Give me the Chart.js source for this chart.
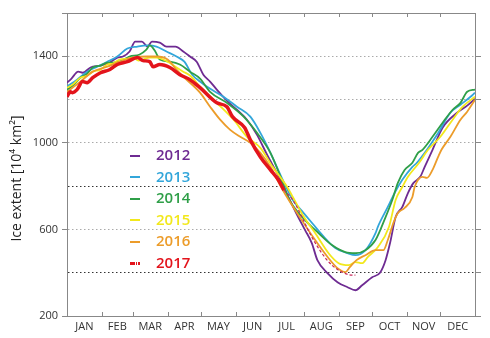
<!DOCTYPE html>
<html>
<head>
<meta charset="utf-8">
<title>Ice extent 2012-2017</title>
<script src="https://cdn.jsdelivr.net/npm/chart.js@4.4.0/dist/chart.umd.min.js"></script>
<style>
  body { margin: 0; background: #fff; }
  #wrap { position: relative; width: 490px; height: 338px; }
  #legend { position: absolute; left: 130px; top: 144px; font: 600 15px "Open Sans", sans-serif; }
  #legend div { height: 21.5px; line-height: 21.5px; white-space: nowrap; }
  #legend .sym { display: inline-block; width: 10px; height: 2px; vertical-align: middle; margin-right: 16px; }
</style>
</head>
<body>
<div id="wrap">
  <canvas id="chart"></canvas>
  <div id="legend"></div>
</div>
<script>
// ----- Data (day of year / extent in 10^4 km2) -----
const months = ["JAN", "FEB", "MAR", "APR", "MAY", "JUN", "JUL", "AUG", "SEP", "OCT", "NOV", "DEC"];
const monthStarts = [0, 31, 59, 90, 120, 151, 181, 212, 243, 273, 304, 334, 365];
const yLabelled = [200, 600, 1000, 1400];
const yDarkLines = [400, 800];

const days2012 = [0, 4, 10, 14, 21, 30, 38, 45, 50, 56, 61, 67, 72, 76, 83, 89, 97, 104, 110, 116, 122, 128, 134, 143, 152, 161, 170, 179, 191, 198, 205, 213, 219, 224, 233, 242, 251, 258, 264, 273, 280, 285, 289, 294, 300, 305, 310, 316, 320, 327, 336, 349, 358, 365];
const ext2012 = [1278, 1297, 1329, 1324, 1348, 1357, 1371, 1394, 1399, 1422, 1468, 1468, 1445, 1468, 1463, 1445, 1445, 1422, 1399, 1375, 1315, 1283, 1246, 1195, 1153, 1107, 1037, 945, 829, 750, 676, 597, 537, 458, 398, 356, 333, 319, 342, 379, 400, 458, 537, 657, 704, 768, 815, 843, 889, 968, 1070, 1139, 1172, 1204];

const days2013 = [0, 9, 18, 27, 36, 45, 54, 63, 72, 80, 89, 98, 105, 112, 119, 125, 140, 152, 164, 173, 182, 193, 202, 211, 220, 230, 240, 251, 258, 267, 276, 278, 287, 293, 300, 309, 313, 322, 331, 343, 352, 361, 365];
const ext2013 = [1260, 1292, 1329, 1352, 1375, 1399, 1436, 1445, 1450, 1445, 1422, 1399, 1375, 1315, 1283, 1260, 1213, 1167, 1121, 1046, 954, 829, 736, 680, 625, 565, 514, 490, 481, 504, 583, 611, 704, 768, 829, 889, 908, 968, 1037, 1139, 1176, 1213, 1232];

const days2014 = [0, 5, 12, 18, 23, 30, 36, 41, 47, 56, 65, 71, 74, 79, 83, 92, 101, 110, 119, 128, 143, 158, 170, 182, 191, 199, 213, 225, 237, 249, 258, 267, 276, 285, 291, 296, 302, 309, 314, 318, 327, 336, 345, 352, 358, 365];
const ext2014 = [1246, 1264, 1301, 1320, 1348, 1357, 1371, 1371, 1375, 1399, 1408, 1431, 1450, 1422, 1385, 1375, 1362, 1329, 1297, 1236, 1185, 1121, 1046, 954, 843, 736, 643, 583, 528, 495, 490, 504, 551, 657, 736, 815, 875, 908, 954, 968, 1028, 1093, 1153, 1185, 1236, 1246];

const days2015 = [0, 5, 12, 18, 23, 30, 36, 41, 47, 54, 59, 64, 68, 74, 80, 90, 98, 104, 110, 119, 134, 149, 161, 173, 184, 197, 202, 212, 222, 234, 243, 252, 258, 264, 269, 278, 288, 294, 300, 305, 315, 323, 334, 345, 354, 365];
const ext2015 = [1255, 1269, 1301, 1310, 1329, 1338, 1362, 1366, 1385, 1389, 1394, 1380, 1385, 1394, 1394, 1375, 1348, 1329, 1311, 1260, 1185, 1107, 1028, 977, 889, 796, 750, 657, 583, 490, 444, 435, 449, 444, 472, 518, 611, 736, 796, 843, 908, 968, 1028, 1107, 1167, 1213];

const days2016 = [0, 12, 23, 36, 47, 59, 72, 80, 90, 98, 104, 119, 128, 137, 146, 155, 164, 173, 182, 193, 210, 222, 234, 242, 249, 253, 259, 267, 276, 283, 287, 292, 296, 302, 309, 311, 318, 322, 327, 332, 335, 343, 352, 358, 365];
const ext2016 = [1236, 1283, 1329, 1352, 1375, 1394, 1399, 1399, 1385, 1338, 1306, 1232, 1167, 1107, 1060, 1028, 1000, 954, 889, 782, 643, 551, 467, 421, 403, 426, 458, 481, 504, 504, 551, 630, 676, 699, 750, 796, 843, 838, 875, 935, 968, 1028, 1107, 1144, 1199];

const days2017 = [0, 3, 5, 9, 14, 18, 23, 30, 38, 45, 54, 63, 68, 74, 77, 83, 92, 101, 110, 119, 134, 143, 148, 159, 164, 173, 182, 189, 194];
const ext2017 = [1213, 1236, 1232, 1246, 1283, 1278, 1301, 1324, 1338, 1362, 1375, 1394, 1380, 1375, 1352, 1362, 1348, 1315, 1292, 1255, 1185, 1167, 1121, 1070, 1014, 935, 875, 829, 782];

// 2017 forecast (dashed)
const days2017f = [194, 202, 219, 228, 237, 246, 255, 258];
const ext2017f = [782, 736, 565, 490, 435, 403, 389, 389];

const series = [
  { label: "2012", color: "#6e2b92", days: days2012, ext: ext2012 },
  { label: "2013", color: "#33a6da", days: days2013, ext: ext2013 },
  { label: "2014", color: "#2f9f48", days: days2014, ext: ext2014 },
  { label: "2015", color: "#f2e81c", days: days2015, ext: ext2015 },
  { label: "2016", color: "#ec9c2a", days: days2016, ext: ext2016 },
  { label: "2017", color: "#e3141c", days: days2017, ext: ext2017 }
];

// ----- Chart -----
const FONT = '"Open Sans", "DejaVu Sans", sans-serif';
Chart.defaults.font.family = FONT;

const monthMids = monthStarts.slice(0, 12).map((d, i) => (d + monthStarts[i + 1]) / 2);
const toPoints = (d, e) => d.map((x, i) => ({ x, y: e[i] }));

const datasets = series.map((s, i) => ({
  label: s.label,
  data: toPoints(s.days, s.ext),
  borderColor: s.color,
  borderWidth: s.label === "2017" ? 3.5 : 1.8,
  pointRadius: 0,
  cubicInterpolationMode: "monotone",
  borderJoinStyle: "round",
  xAxisID: "x",
  yAxisID: "y",
  order: s.label === "2017" ? 0 : series.length - i + 1
}));
datasets.push({
  label: "2017 forecast",
  data: toPoints(days2017f, ext2017f),
  borderColor: "#c8285a",
  borderWidth: 1.2,
  borderDash: [3, 2],
  pointRadius: 0,
  cubicInterpolationMode: "monotone",
  xAxisID: "x",
  yAxisID: "y",
  order: 1
});

// short inward month ticks on top and bottom frame
const monthTicks = {
  id: "monthTicks",
  afterDraw(chart) {
    const { ctx, chartArea: a, scales: { x } } = chart;
    ctx.save();
    ctx.strokeStyle = "#888";
    ctx.lineWidth = 1;
    ctx.beginPath();
    monthStarts.forEach(d => {
      const px = Math.round(x.getPixelForValue(d)) + 0.5;
      ctx.moveTo(px, a.bottom);
      ctx.lineTo(px, a.bottom - 4);
      ctx.moveTo(px, a.top);
      ctx.lineTo(px, a.top + 4);
    });
    ctx.stroke();
    ctx.restore();
  }
};

const chart = new Chart(document.getElementById("chart"), {
  type: "line",
  data: { datasets },
  plugins: [monthTicks],
  options: {
    responsive: true,
    maintainAspectRatio: false,
    animation: false,
    layout: { padding: { top: 13, left: 0, right: 0, bottom: 0 } },
    plugins: { legend: { display: false }, tooltip: { enabled: false } },
    scales: {
      x: {
        type: "linear", position: "bottom", min: 0, max: 365,
        afterBuildTicks: s => { s.ticks = monthMids.map(v => ({ value: v })); },
        afterFit: s => { s.height = 22; },
        ticks: {
          autoSkip: false, maxRotation: 0, padding: 4, color: "#333",
          font: { size: 11 },
          callback: (v, i) => months[i]
        },
        grid: { display: false, drawTicks: false },
        border: { color: "#888" }
      },
      xTop: {
        type: "linear", position: "top", min: 0, max: 365,
        afterFit: s => { s.height = 0; },
        ticks: { display: false },
        grid: { display: false, drawTicks: false },
        border: { color: "#888" }
      },
      y: {
        position: "left", min: 200, max: 1600,
        afterFit: s => { s.width = 67; },
        ticks: {
          stepSize: 200, padding: 4, color: "#333",
          font: { size: 11 },
          callback: v => yLabelled.includes(v) ? v : ""
        },
        grid: {
          lineWidth: 1,
          tickLength: 5,
          color: c => {
            const v = c.tick && c.tick.value;
            if (v === 200 || v === 1600) return "transparent";
            return yDarkLines.includes(v) ? "#333" : "#aaa";
          },
          tickColor: c => {
            const v = c.tick && c.tick.value;
            return (yLabelled.includes(v) || v === 1600) ? "#888" : "transparent";
          }
        },
        border: { color: "#888", dash: [1.5, 2.5] },
        title: {
          display: true,
          text: "Ice extent [10\u2074 km\u00b2]" + "\u2002".repeat(4),
          color: "#222",
          font: { size: 14 },
          padding: { top: 9, bottom: 0 }
        }
      },
      yRight: {
        position: "right", min: 200, max: 1600,
        afterFit: s => { s.width = 15; },
        ticks: { display: false, stepSize: 200 },
        grid: {
          drawOnChartArea: false,
          tickLength: 6,
          tickColor: c => (c.tick && c.tick.value === 1600) ? "transparent" : "#888"
        },
        border: { color: "#888" }
      }
    }
  }
});

// ----- Legend (HTML, inside plot) -----
const legend = document.getElementById("legend");
series.forEach(s => {
  const row = document.createElement("div");
  const sym = document.createElement("span");
  sym.className = "sym";
  if (s.label === "2017") {
    sym.style.height = "3px";
    sym.style.background = `linear-gradient(to right, ${s.color} 0 5px, transparent 5px 6px, ${s.color} 6px 7.5px, transparent 7.5px 8.5px, ${s.color} 8.5px 10px)`;
  } else {
    sym.style.background = s.color;
  }
  const txt = document.createElement("span");
  txt.textContent = s.label;
  txt.style.color = s.color;
  row.appendChild(sym);
  row.appendChild(txt);
  legend.appendChild(row);
});
</script>
</body>
</html>
